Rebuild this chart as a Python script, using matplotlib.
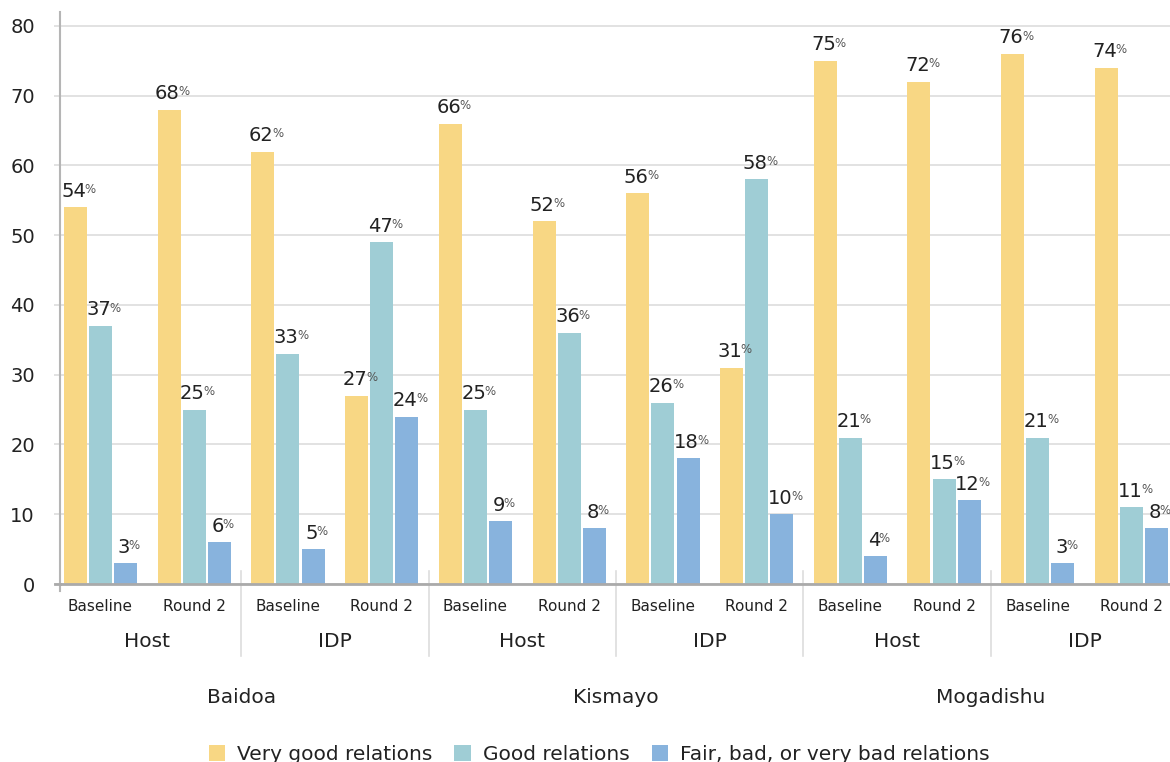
import matplotlib
matplotlib.use("Agg")
import matplotlib.pyplot as plt
from matplotlib.patches import Patch
import numpy as np

plt.rcParams['font.family'] = ['DejaVu Sans']

cities = ["Baidoa", "Kismayo", "Mogadishu"]
groups = ["Host", "IDP"]
rounds = ["Baseline", "Round 2"]
series = ["Very good relations", "Good relations", "Fair, bad, or very bad relations"]

very_good = [54, 68, 62, 27, 66, 52, 56, 31, 75, 72, 76, 74]
good = [37, 25, 33, 49, 25, 36, 26, 58, 21, 15, 21, 11]
fair_bad = [3, 6, 5, 24, 9, 8, 18, 10, 4, 12, 3, 8]

very_good_labels = [54, 68, 62, 27, 66, 52, 56, 31, 75, 72, 76, 74]
good_labels = [37, 25, 33, 47, 25, 36, 26, 58, 21, 15, 21, 11]
fair_bad_labels = [3, 6, 5, 24, 9, 8, 18, 10, 4, 12, 3, 8]

colors = ["#F8D784", "#9FCDD5", "#88B3DD"]
text_color = "#222222"

W, H = 1170, 762
fig = plt.figure(figsize=(W / 100, H / 100), dpi=100)
ax = fig.add_axes([60 / W, 1 - 584 / H, (W - 60) / W, (584 - 12) / H])

n = len(very_good)
x = np.arange(n)
bw = 0.245
step = 0.268
vals = [very_good, good, fair_bad]
labs = [very_good_labels, good_labels, fair_bad_labels]

for k in range(3):
    xs = x + (k - 1) * step
    ax.bar(xs, vals[k], width=bw, color=colors[k], zorder=3, label=series[k])
    for xi, v, lab in zip(xs, vals[k], labs[k]):
        t = ax.annotate(str(lab), xy=(xi, v), xytext=(-1.2, 7.5), textcoords="offset points",
                        ha="center", va="baseline", fontsize=14, color=text_color, zorder=5)
        ax.annotate("%", xy=(1, 1), xycoords=t, xytext=(-1.0, -0.8), textcoords="offset points",
                    ha="left", va="top", fontsize=8.5, color="#555555", zorder=5)

ax.set_xlim(-0.432, 11.41)
ax.set_ylim(0, 82)
ax.set_yticks(np.arange(0, 81, 10))
ax.yaxis.grid(True, color="#dddddd", linewidth=1.2, zorder=0)
ax.set_axisbelow(True)
ax.tick_params(axis="y", length=4, color="#dddddd", width=1.2, pad=14, labelsize=14, labelcolor=text_color)
ax.tick_params(axis="x", length=0, labelbottom=False)

for s in ["top", "right"]:
    ax.spines[s].set_visible(False)
ax.spines["bottom"].set_visible(False)
ax.spines["left"].set_color("#b5b5b5")
ax.spines["left"].set_linewidth(1.5)
ax.spines["left"].set_bounds(0, 82)

# zero line
ax.axhline(0, color="#aaaaaa", linewidth=2, zorder=4, clip_on=False)
ax.plot([-0.432 - 0.055, -0.432], [0, 0], color="#aaaaaa", linewidth=2, clip_on=False, transform=ax.transData)
xt = ax.get_xaxis_transform()
ax.plot([-0.432, -0.432], [0, -0.012], color="#b5b5b5", linewidth=1.5, clip_on=False, transform=xt)

# hierarchical labels
round_labels = [rounds[i % 2] for i in range(n)]
for i, rl in enumerate(round_labels):
    ax.text(x[i], -0.0385, rl, transform=xt, ha="center", va="center", fontsize=11, color=text_color)
for j in range(6):
    ax.text(2 * j + 0.5, -0.0997, groups[j % 2], transform=xt, ha="center", va="center",
            fontsize=14.5, color=text_color)
for c in range(3):
    ax.text(4 * c + 1.5, -0.199, cities[c], transform=xt, ha="center", va="center",
            fontsize=14.5, color=text_color)
for b in [1.5, 3.5, 5.5, 7.5, 9.5]:
    ax.plot([b, b], [0.0227, -0.126], color="#dddddd", linewidth=1.2, transform=xt, clip_on=False, zorder=1)

handles = [Patch(facecolor=colors[k], edgecolor="none") for k in range(3)]
fig.legend(handles, series, loc="center", bbox_to_anchor=(599 / W, 1 - 754.5 / H), ncol=3,
           frameon=False, fontsize=14.5, handlelength=0.8, handleheight=0.8,
           handletextpad=0.6, columnspacing=1.1, labelcolor=text_color)

fig.savefig("out.png", dpi=100)
